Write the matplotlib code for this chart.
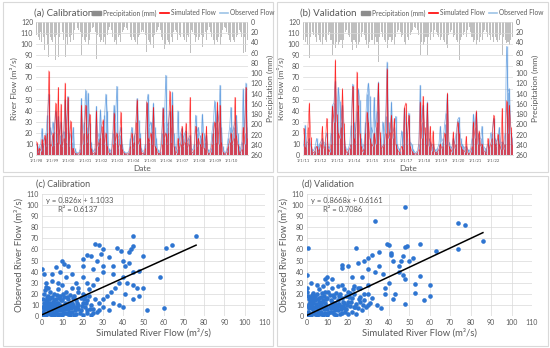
import numpy as np
import pandas as pd
import matplotlib
matplotlib.use("Agg")
import matplotlib.pyplot as plt
from matplotlib.lines import Line2D
from matplotlib.patches import Patch, Rectangle

plt.rcParams['font.family'] = ['Lato', 'DejaVu Sans']

# ---- calibration period (monthly, 1998-2010) ----
cal_sim = [12, 3, 6, 4, 14, 5, 18, 8, 20, 76, 10, 8,
           20, 9, 47, 12, 61, 10, 46, 8, 15, 65, 12, 52,
           8, 31, 5, 6, 2, 1, 1, 1, 3, 45, 10, 20,
           45, 12, 20, 37, 6, 2, 1, 3, 40, 8, 12, 15,
           26, 32, 10, 20, 8, 2, 1, 2, 10, 38, 12, 20,
           6, 10, 39, 5, 2, 1, 1, 1, 2, 8, 20, 6,
           12, 30, 50, 10, 15, 3, 1, 2, 6, 48, 15, 12,
           20, 10, 43, 8, 6, 2, 1, 2, 10, 42, 15, 20,
           10, 20, 58, 12, 45, 8, 3, 2, 15, 5, 10, 26,
           8, 12, 29, 6, 10, 52, 3, 2, 5, 26, 8, 15,
           10, 8, 20, 6, 5, 26, 2, 1, 3, 10, 20, 30,
           12, 48, 10, 45, 12, 3, 1, 1, 3, 8, 12, 20,
           10, 15, 52, 18, 10, 3, 2, 5, 25, 10, 61, 15]
cal_obs = [10, 5, 8, 10, 24, 12, 15, 20, 36, 55, 25, 18,
           30, 22, 40, 20, 35, 18, 30, 15, 22, 50, 25, 53,
           20, 18, 12, 25, 6, 3, 2, 2, 5, 51, 20, 30,
           59, 25, 56, 29, 12, 5, 3, 6, 44, 15, 20, 41,
           20, 18, 36, 55, 40, 6, 3, 5, 20, 45, 30, 62,
           15, 18, 25, 10, 4, 2, 2, 2, 4, 15, 25, 12,
           18, 20, 51, 32, 20, 6, 3, 4, 10, 47, 55, 25,
           30, 22, 47, 25, 15, 5, 3, 4, 20, 43, 30, 72,
           25, 30, 40, 25, 57, 20, 8, 5, 40, 12, 20, 24,
           15, 20, 22, 12, 15, 18, 6, 4, 10, 36, 20, 25,
           18, 15, 37, 20, 12, 18, 5, 3, 6, 20, 30, 49,
           25, 40, 30, 63, 25, 8, 3, 2, 6, 15, 25, 43,
           20, 25, 30, 36, 20, 8, 5, 12, 60, 20, 65, 25]
cal_precip = [25, 30, 35, 20, 40, 30, 55, 25, 45, 68, 30, 35,
              40, 30, 75, 25, 68, 30, 40, 20, 35, 68, 30, 45,
              30, 40, 25, 35, 15, 10, 12, 15, 20, 65, 30, 35,
              40, 30, 45, 35, 20, 12, 10, 20, 73, 25, 30, 40,
              35, 40, 30, 45, 25, 15, 10, 15, 30, 40, 35, 45,
              30, 25, 40, 20, 15, 10, 12, 15, 25, 30, 35, 30,
              35, 40, 45, 30, 25, 20, 15, 20, 25, 59, 35, 40,
              45, 30, 50, 25, 20, 15, 10, 15, 30, 35, 53, 45,
              35, 40, 45, 30, 40, 20, 15, 20, 35, 25, 30, 40,
              30, 35, 40, 25, 30, 61, 15, 20, 25, 40, 30, 35,
              30, 25, 48, 30, 20, 35, 15, 10, 20, 30, 35, 45,
              35, 40, 30, 45, 30, 15, 10, 12, 20, 25, 35, 40,
              30, 35, 40, 30, 25, 15, 20, 30, 60, 30, 58, 35]
cal_ticks = ['1/1/98', '1/1/99', '1/1/00', '1/1/01', '1/1/02', '1/1/03', '1/1/04',
             '1/1/05', '1/1/06', '1/1/07', '1/1/08', '1/1/09', '1/1/10']

# ---- validation period (monthly, 2011-2023) ----
val_sim = [24, 7, 5, 25, 47, 16, 3, 2, 4, 8, 3, 5,
           10, 26, 6, 8, 33, 5, 3, 10, 44, 30, 86, 37,
           20, 15, 25, 60, 29, 5, 2, 3, 6, 10, 62, 15,
           10, 75, 45, 20, 8, 3, 5, 20, 39, 30, 15, 10,
           8, 20, 10, 30, 65, 21, 5, 8, 10, 20, 78, 15,
           21, 36, 15, 33, 10, 5, 3, 2, 8, 5, 43, 47,
           10, 36, 8, 4, 2, 1, 1, 2, 5, 48, 15, 53,
           25, 10, 47, 8, 26, 4, 22, 3, 2, 3, 5, 10,
           6, 8, 20, 10, 56, 8, 5, 3, 21, 6, 10, 30,
           20, 8, 5, 4, 3, 17, 2, 1, 3, 8, 30, 15,
           40, 10, 22, 8, 10, 4, 3, 2, 15, 5, 10, 15,
           36, 10, 8, 19, 10, 5, 42, 5, 10, 49, 20, 45,
           25, 10]
val_obs = [8, 27, 10, 12, 15, 8, 5, 4, 8, 15, 6, 10,
           12, 15, 10, 12, 20, 8, 6, 20, 45, 47, 67, 30,
           61, 49, 30, 45, 20, 8, 4, 6, 10, 27, 64, 30,
           20, 40, 60, 50, 15, 6, 10, 30, 55, 65, 53, 25,
           20, 52, 25, 40, 66, 15, 10, 30, 20, 35, 84, 30,
           15, 48, 20, 25, 35, 10, 6, 4, 22, 10, 42, 30,
           15, 38, 12, 10, 5, 3, 2, 4, 10, 63, 30, 45,
           20, 15, 48, 15, 12, 8, 10, 5, 4, 6, 10, 26,
           12, 15, 28, 38, 55, 12, 8, 6, 15, 10, 20, 32,
           34, 15, 10, 8, 6, 8, 5, 3, 6, 15, 37, 25,
           39, 20, 15, 15, 26, 8, 6, 5, 10, 10, 20, 20,
           33, 15, 12, 15, 25, 10, 12, 10, 20, 98, 57, 60,
           20, 15]
val_precip = [35, 40, 30, 45, 71, 30, 20, 25, 30, 40, 25, 35,
              40, 45, 30, 35, 40, 25, 20, 35, 65, 45, 50, 40,
              45, 40, 35, 50, 35, 20, 15, 25, 30, 40, 55, 35,
              40, 50, 45, 40, 30, 20, 25, 35, 45, 50, 40, 35,
              35, 45, 30, 40, 78, 30, 20, 30, 35, 40, 50, 35,
              30, 40, 35, 45, 30, 20, 15, 20, 30, 25, 40, 45,
              30, 35, 25, 20, 15, 10, 12, 15, 25, 65, 40, 45,
              40, 30, 65, 30, 35, 20, 30, 15, 20, 25, 30, 35,
              30, 35, 40, 45, 50, 25, 20, 15, 30, 25, 35, 40,
              74, 35, 30, 25, 20, 30, 15, 10, 20, 30, 40, 35,
              45, 35, 40, 30, 35, 20, 15, 20, 30, 25, 35, 30,
              40, 30, 35, 40, 35, 25, 65, 30, 35, 42, 40, 45,
              35, 30]
val_ticks = ['1/1/11', '1/1/12', '1/1/13', '1/1/14', '1/1/15', '1/1/16',
             '1/1/17', '1/1/18', '1/1/19', '1/1/20', '1/1/21', '1/1/22']

# ---- scatter: simulated vs observed daily flow ----
cal_pairs = [(0.5, 1), (1, 3), (2, 1), (3, 4), (1, 6), (2, 8), (4, 2), (5, 5), (6, 1), (3, 10),
             (1, 12), (0.5, 15), (2, 14), (4, 12), (5, 8), (6, 11), (7, 4), (8, 7), (9, 2), (10, 5),
             (8, 12), (7, 15), (5, 17), (3, 18), (1, 20), (9, 10), (10, 14), (11, 8), (12, 3), (12, 11),
             (13, 6), (14, 9), (11, 17), (9, 18), (13, 15), (15, 4), (15, 12), (16, 8), (17, 2), (17, 14),
             (18, 10), (14, 19), (16, 18), (19, 5), (19, 16), (20, 12), (20, 1), (21, 8), (22, 14), (22, 3),
             (23, 18), (24, 10), (25, 6), (18, 22), (15, 25), (12, 22), (8, 24), (6, 20), (4, 22), (26, 15),
             (27, 4), (23, 24), (20, 20), (2, 26), (10, 28), (13, 2), (5, 1), (1, 9), (3, 7), (7, 9),
             (6, 14), (4, 16), (10, 1), (16, 1), (11, 3), (14, 1), (18, 6), (21, 18), (24, 1), (8, 1),
             (0.5, 4), (1.5, 2), (2.5, 6), (3.5, 3), (4.5, 7), (5.5, 3), (6.5, 6), (7.5, 2), (8.5, 5), (9.5, 8),
             (10.5, 3), (11.5, 6), (12.5, 9), (13.5, 4), (14.5, 7), (15.5, 10), (16.5, 5), (17.5, 12), (18.5, 3),
             (19.5, 9), (0.5, 8), (1.5, 11), (2.5, 13), (3.5, 15), (4.5, 10), (5.5, 13), (6.5, 9), (7.5, 12),
             (8.5, 16), (9.5, 14), (11.5, 12), (13.5, 11), (15.5, 16), (17.5, 8), (21.5, 12), (23.5, 6),
             (20.5, 15), (12.5, 17), (10.5, 20), (7.5, 19), (2.5, 17), (1.5, 23),
             (76, 72), (64, 64), (61, 61), (58, 35), (52, 5), (60, 7), (45, 72), (26, 65), (28, 64), (45, 63),
             (43, 58), (44, 60), (37, 61), (39, 59), (30, 60), (29, 56), (33, 53), (40, 50), (43, 48), (41, 45),
             (50, 54), (22, 55), (24, 54), (27, 50), (35, 45), (30, 45), (20, 51), (10, 50), (11, 47), (13, 45),
             (7, 44), (0, 42), (1, 38), (9, 40), (5, 38), (20, 45), (25, 42), (30, 40), (35, 38), (45, 40),
             (48, 41), (40, 35), (38, 30), (42, 30), (45, 28), (47, 25), (50, 25), (48, 18), (45, 15), (41, 20),
             (36, 25), (34, 22), (32, 18), (30, 15), (28, 12), (35, 12), (38, 10), (40, 8), (30, 8), (28, 5),
             (33, 5), (25, 3), (22, 5), (2, 30), (3, 25), (5, 32), (8, 30), (12, 35), (15, 38), (17, 30),
             (20, 35), (22, 30), (25, 28), (27, 33), (18, 25)]
val_pairs = [(0.5, 1), (1, 3), (2, 1), (3, 5), (1, 7), (2, 10), (4, 2), (5, 6), (6, 2), (3, 12),
             (1, 15), (0.5, 18), (2, 17), (4, 14), (5, 9), (6, 13), (7, 4), (8, 8), (9, 3), (10, 6),
             (8, 14), (7, 17), (5, 20), (3, 21), (9, 12), (10, 16), (11, 9), (12, 4), (12, 13), (13, 7),
             (14, 10), (11, 19), (9, 22), (13, 17), (15, 5), (15, 14), (16, 9), (17, 3), (17, 16), (18, 12),
             (14, 21), (16, 20), (19, 6), (19, 18), (20, 13), (20, 2), (21, 9), (22, 16), (22, 4), (23, 20),
             (24, 11), (25, 7), (18, 24), (15, 27), (12, 25), (8, 27), (6, 24), (26, 17), (27, 5), (23, 27),
             (20, 22), (28, 14), (10, 30), (13, 2), (5, 1), (1, 11), (3, 8), (7, 10), (6, 16), (4, 18),
             (10, 1), (16, 2), (11, 4), (14, 1), (18, 7), (21, 21), (24, 2), (29, 8), (30, 20), (26, 25),
             (31, 12), (17, 28), (12, 33), (8, 1),
             (0.5, 4), (1.5, 2), (2.5, 7), (3.5, 3), (4.5, 8), (5.5, 4), (6.5, 7), (7.5, 2), (8.5, 6), (9.5, 9),
             (10.5, 3), (11.5, 7), (12.5, 10), (13.5, 5), (14.5, 8), (15.5, 11), (16.5, 6), (17.5, 13), (18.5, 4),
             (19.5, 10), (0.5, 9), (1.5, 13), (2.5, 14), (3.5, 16), (4.5, 11), (5.5, 15), (6.5, 10), (7.5, 13),
             (8.5, 18), (9.5, 15), (11.5, 14), (13.5, 12), (15.5, 18), (17.5, 9), (21.5, 13), (23.5, 8),
             (20.5, 17), (12.5, 19), (10.5, 22), (7.5, 21), (2.5, 19), (25.5, 15), (27.5, 10), (22.5, 24),
             (48, 98), (33, 86), (74, 84), (77, 82), (86, 68), (74, 60), (0.5, 61), (24, 61), (39, 65), (40, 64),
             (48, 62), (49, 63), (55, 65), (60, 28), (63, 59), (60, 18), (57, 14), (55, 36), (53, 29), (53, 21),
             (48, 11), (48, 33), (47, 37), (45, 40), (38, 25), (40, 30), (41, 57), (41, 55), (35, 58), (32, 55),
             (30, 52), (28, 50), (25, 48), (20, 45), (17, 46), (17, 43), (10, 35), (9, 33), (5, 28), (0, 37),
             (0, 25), (0, 22), (2, 30), (34, 10), (36, 7), (42, 15), (43, 20), (45, 45), (50, 50), (52, 52),
             (46, 50), (42, 50), (47, 54), (30, 42), (33, 40), (35, 45), (37, 38), (27, 35), (30, 28), (25, 25),
             (22, 35), (28, 20), (32, 16), (38, 20), (26, 13), (30, 10), (23, 8)]

cal_fit = (0.826, 1.1033, 0.6137)
val_fit = (0.8668, 0.6161, 0.7086)

GREY = '#595959'
GRID = '#d9d9d9'
RED = '#ff0000'
BLUE = '#3f88d9'
PRCP = '#b4b4b4'

W, H = 550, 348
fig = plt.figure(figsize=(W / 100, H / 100), dpi=100)


def px_axes(x0, y0, x1, y1):
    return fig.add_axes([x0 / W, 1 - y1 / H, (x1 - x0) / W, (y1 - y0) / H])


def frame(x0, y0, x1, y1):
    fig.patches.append(Rectangle((x0 / W, 1 - y1 / H), (x1 - x0) / W, (y1 - y0) / H,
                                 transform=fig.transFigure, fill=False,
                                 edgecolor='#d9d9d9', linewidth=0.8))


def hydrograph(box, start, sim, obs, precip, ticks, xend, title, tx, leg_x):
    ax = px_axes(*box)
    dates = pd.date_range(start, periods=len(sim), freq='MS') + pd.Timedelta(days=14)
    # observed flow underneath, simulated on top (semi-transparent, so overlaps turn purple)
    ax.vlines(dates, 0, obs, color=BLUE, lw=1.0, alpha=0.55, zorder=3)
    ax.plot(dates, obs, color=BLUE, lw=0.5, alpha=0.6, zorder=3)
    ax.vlines(dates, 0, sim, color=RED, lw=0.8, alpha=0.6, zorder=4)
    ax.plot(dates, sim, color=RED, lw=0.5, alpha=0.6, zorder=4)
    ax.set_ylim(0, 120)
    ax.set_yticks(range(0, 121, 10))
    ax.set_xlim(pd.Timestamp(start), pd.Timestamp(xend))
    years = pd.date_range(start, periods=len(ticks), freq='YS')
    ax.set_xticks(years)
    ax.set_xticklabels(ticks, fontsize=3.0, color=GREY)
    ax.tick_params(axis='y', labelsize=5, colors=GREY, length=0, pad=2)
    ax.tick_params(axis='x', length=0, pad=3)
    ax.grid(axis='y', color=GRID, lw=0.5)
    ax.set_axisbelow(True)
    for s in ['top', 'right', 'left']:
        ax.spines[s].set_visible(False)
    ax.spines['bottom'].set_color(GRID)
    ax.spines['bottom'].set_linewidth(0.6)
    ax.set_ylabel('River Flow (m³/s)', fontsize=6, color=GREY, labelpad=2)
    ax.set_xlabel('Date', fontsize=6, color=GREY, labelpad=1)

    ax2 = ax.twinx()
    ax2.bar(dates, precip, width=22, color=PRCP, alpha=0.85, linewidth=0, zorder=1)
    ax2.set_ylim(260, 0)
    ax2.set_yticks(range(0, 261, 20))
    ax2.tick_params(axis='y', labelsize=5, colors=GREY, length=0, pad=2)
    for s in ax2.spines.values():
        s.set_visible(False)
    ax2.set_ylabel('Precipitation (mm)', fontsize=6, color=GREY, labelpad=3)
    ax.set_zorder(ax2.get_zorder() + 1)
    ax.patch.set_visible(False)

    fig.text(tx / W, 1 - 13 / H, title, fontsize=7, color=GREY, va='center')
    handles = [Patch(color='#8c8c8c'), Line2D([], [], color=RED, lw=1.2),
               Line2D([], [], color='#9dc3e6', lw=1.2)]
    fig.legend(handles, ['Precipitation (mm)', 'Simulated Flow', 'Observed Flow'],
               loc='center left', bbox_to_anchor=(leg_x / W, 1 - 13 / H), ncol=3, frameon=False,
               fontsize=4.8, handlelength=1.3, handleheight=0.6, columnspacing=0.6,
               handletextpad=0.3, labelcolor=GREY, borderpad=0, borderaxespad=0)


def scatter(box, pairs, fit, title, tx):
    ax = px_axes(*box)
    sx = [p[0] for p in pairs]
    sy = [p[1] for p in pairs]
    ax.scatter(sx, sy, s=11, color='#2e75d1', marker='o', linewidths=0, zorder=3)
    slope, icpt, r2 = fit
    xe = max(sx)
    ax.plot([0, xe], [icpt, slope * xe + icpt], color='black', lw=1.1, zorder=4)
    ax.set_xlim(0, 110)
    ax.set_ylim(0, 110)
    ax.set_xticks(range(0, 111, 10))
    ax.set_yticks(range(0, 111, 10))
    ax.grid(color=GRID, lw=0.5)
    ax.set_axisbelow(True)
    for s in ax.spines.values():
        s.set_visible(False)
    ax.tick_params(labelsize=5, colors=GREY, length=0, pad=2)
    ax.set_xlabel('Simulated River Flow (m³/s)', fontsize=6.8, color=GREY, labelpad=2)
    ax.set_ylabel('Observed River Flow (m³/s)', fontsize=6.8, color=GREY, labelpad=2)
    ax.text(2, 104, f'y = {slope}x + {icpt}', fontsize=5.5, color=GREY, va='center')
    ax.text(8, 96, f'R² = {r2}', fontsize=5.5, color=GREY, va='center')
    fig.text(tx / W, 1 - 184 / H, title, fontsize=6.5, color=GREY, va='center')


frame(3, 2, 273, 172)
frame(277, 2, 548, 172)
frame(3, 176, 273, 346)
frame(277, 176, 548, 346)

hydrograph((36, 22, 248, 155), '1998-01-01', cal_sim, cal_obs, cal_precip, cal_ticks,
           '2011-01-01', '(a) Calibration', 34, 92)
hydrograph((303, 22, 513, 155), '2011-01-01', val_sim, val_obs, val_precip, val_ticks,
           '2023-03-01', '(b) Validation', 300, 361)
scatter((42, 194, 265, 316), cal_pairs, cal_fit, '(c) Calibration', 36)
scatter((307, 194, 532, 316), val_pairs, val_fit, '(d) Validation', 302)

fig.savefig('out.png', dpi=100)
